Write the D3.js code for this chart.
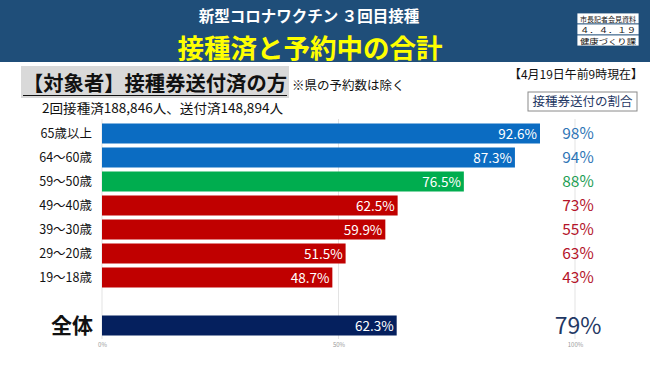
<!DOCTYPE html>
<html><head><meta charset="utf-8">
<script src="https://cdn.jsdelivr.net/npm/d3@7"></script>
<style>body{margin:0;background:#fff}svg{display:block}</style>
</head><body>
<script>
const categories = ["65歳以上","64～60歳","59～50歳","49～40歳","39～30歳","29～20歳","19～18歳","全体"];
const bookedValues = [92.6, 87.3, 76.5, 62.5, 59.9, 51.5, 48.7, 62.3];
const sentShare = [98, 94, 88, 73, 55, 63, 43, 79];
const groups = ["old","old","mid","young","young","young","young","all"];
const tickValues = [0, 50, 100];

const W = 650, H = 365;
const font = "'Noto Sans CJK JP','Noto Sans',sans-serif";
const barColor = {old:"#0b6cc2", mid:"#00ad4f", young:"#c00000", all:"#05205e"};
const pctColor = {old:"#2e75b6", mid:"#1e9e55", young:"#b4142a", all:"#1f3864"};

const svg = d3.select("body").append("svg").attr("width", W).attr("height", H)
  .style("font-family", font);

// header
svg.append("rect").attr("x",0).attr("y",0).attr("width",W).attr("height",62).attr("fill","#1f4e79");
svg.append("text").attr("x",309).attr("y",21.5).attr("text-anchor","middle").attr("fill","#fff")
  .attr("font-size",15.5).attr("font-weight","bold").text("新型コロナワクチン ３回目接種");
svg.append("text").attr("x",310).attr("y",57.5).attr("text-anchor","middle").attr("fill","#ffff00")
  .attr("font-size",26.5).attr("font-weight","bold").text("接種済と予約中の合計");
const box = svg.append("g").attr("transform","translate(577,13)");
["市長記者会見資料","４．４．１９","健康づくり課"].forEach((t,i)=>{
  box.append("rect").attr("x",0).attr("y",i*11).attr("width",62).attr("height",11)
    .attr("fill","#fff").attr("stroke","#1f4e79").attr("stroke-width",0.8);
  box.append("text").attr("x",31).attr("y",i*11+8.5).attr("text-anchor","middle")
    .attr("font-size",7).attr("fill","#111").attr("textLength",56).attr("lengthAdjust","spacingAndGlyphs").text(t);
});

// subtitle
svg.append("rect").attr("x",21).attr("y",66).attr("width",268).attr("height",32).attr("fill","#d9d9d9");
svg.append("text").attr("x",23).attr("y",91).attr("font-size",20.5).attr("font-weight","bold")
  .attr("fill","#111").attr("textLength",264).attr("lengthAdjust","spacingAndGlyphs").text("【対象者】接種券送付済の方");
svg.append("line").attr("x1",23).attr("x2",287).attr("y1",95.5).attr("y2",95.5).attr("stroke","#111").attr("stroke-width",1.2);
svg.append("text").attr("x",292).attr("y",90).attr("font-size",12.5).attr("fill","#111").text("※県の予約数は除く");
svg.append("text").attr("x",42).attr("y",113).attr("font-size",13).attr("fill","#111")
  .attr("textLength",241).attr("lengthAdjust","spacingAndGlyphs").text("2回接種済188,846人、送付済148,894人");
svg.append("text").attr("x",509).attr("y",79).attr("font-size",12).attr("fill","#111")
  .attr("textLength",134).attr("lengthAdjust","spacingAndGlyphs").text("【4月19日午前9時現在】");
svg.append("rect").attr("x",528).attr("y",92).attr("width",109).attr("height",19)
  .attr("fill","#fff").attr("stroke","#8a8a8a").attr("stroke-width",1);
svg.append("text").attr("x",582.5).attr("y",106).attr("text-anchor","middle").attr("font-size",12.5)
  .attr("fill","#1f3864").text("接種券送付の割合");

// scales
const x = d3.scaleLinear().domain([0,100]).range([102, 575]);
const yDomain = [...categories.slice(0,7), "_gap", categories[7]];
const y = d3.scaleBand().domain(yDomain).range([123.5, 335.5]).paddingInner(4/24).paddingOuter(0);

// grid
const grid = svg.append("g");
grid.selectAll("line").data(tickValues).join("line")
  .attr("x1",d=>x(d)).attr("x2",d=>x(d)).attr("y1",119).attr("y2",339)
  .attr("stroke","#e3e3e3").attr("stroke-width",1);
const axis = d3.axisBottom(x).tickValues(tickValues).tickFormat(d=>d+"%").tickSize(0);
const ag = svg.append("g").attr("transform","translate(0,340)").call(axis);
ag.select(".domain").remove();
ag.selectAll("text").attr("font-size",6).attr("fill","#999").attr("font-family",font);

const data = categories.map((c,i)=>({c, v:bookedValues[i], s:sentShare[i], g:groups[i]}));

svg.append("g").selectAll("rect").data(data).join("rect")
  .attr("x",x(0)).attr("y",d=>y(d.c)).attr("width",d=>x(d.v)-x(0)).attr("height",y.bandwidth())
  .attr("fill",d=>barColor[d.g]);

svg.append("g").selectAll("text").data(data).join("text")
  .attr("x",d=>x(d.v)-3).attr("y",d=>y(d.c)+y.bandwidth()/2+5)
  .attr("text-anchor","end").attr("fill","#fff").attr("font-size",13.5).text(d=>d.v.toFixed(1)+"%");

// category labels
svg.append("g").selectAll("text").data(data).join("text")
  .attr("x",d=>d.g==="all"?93:92).attr("y",d=>y(d.c)+y.bandwidth()/2+(d.g==="all"?7.5:4.5))
  .attr("text-anchor","end").attr("fill","#111")
  .attr("font-size",d=>d.g==="all"?21:12.5).attr("font-weight",d=>d.g==="all"?"bold":"normal")
  .text(d=>d.c);

// right share
svg.append("g").selectAll("text").data(data).join("text")
  .attr("x",578).attr("y",d=>y(d.c)+y.bandwidth()/2+(d.g==="all"?8.5:5.5))
  .attr("text-anchor","middle").attr("fill",d=>pctColor[d.g])
  .attr("font-size",d=>d.g==="all"?23:15.5).text(d=>d.s+"%");
</script>
</body></html>
